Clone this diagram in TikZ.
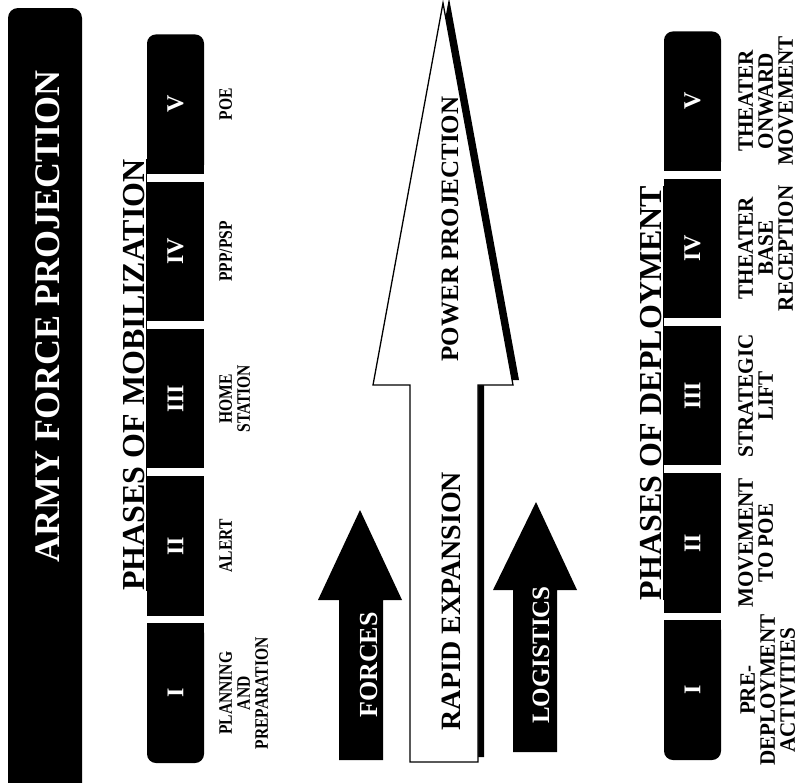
\documentclass[tikz,border=0pt]{standalone}
\usepackage{fontspec}
\setmainfont{Liberation Serif}
\newfontfamily\narrowfont{Liberation Serif}[FakeStretch=0.82]
\newfontfamily\wideningfont{Liberation Serif}[FakeStretch=0.96]
\usetikzlibrary{positioning,backgrounds}

\begin{document}
\begin{tikzpicture}[x=1pt,y=-1pt]
    \tikzset{
        phase/.style = {rectangle, fill=black, text=white, inner sep=0pt, minimum width=57pt, minimum height=139.4pt, font=\fontsize{24}{24}\selectfont\bfseries},
        endphase/.style = {phase, rounded corners=9pt},
        mlabel/.style = {rotate=90, anchor=north, align=center, inner sep=0pt, font=\narrowfont\bfseries\fontsize{19}{18}\selectfont},
        dlabel/.style = {rotate=90, anchor=north, align=center, inner sep=0pt, font=\wideningfont\bfseries\fontsize{22}{20}\selectfont},
        heading/.style = {rotate=90, anchor=south, inner sep=0pt, font=\fontsize{32}{32}\selectfont\bfseries},
        hollow/.style = {draw=black, fill=white, line width=1.3pt, line join=miter},
        solid/.style = {fill=black},
        arrowtext/.style = {rotate=90, inner sep=0pt, font=\fontsize{25}{25}\selectfont\bfseries},
    }
    \useasboundingbox (0,0) rectangle (802,782);

    % title bar
    \fill[rounded corners=10pt] (8,800) rectangle (82,8);
    \node[rotate=90, text=white, font=\fontsize{36}{36}\selectfont\bfseries](title) at (48,316){ARMY FORCE PROJECTION};

    % phases of mobilization
    \node[endphase](m1) at (175.5,693.3){\rotatebox{90}{I}};
    \node[phase](m2)[above = 7.5pt of m1]{\rotatebox{90}{II}};
    \node[phase](m3)[above = 7.5pt of m2]{\rotatebox{90}{III}};
    \node[phase](m4)[above = 7.5pt of m3]{\rotatebox{90}{IV}};
    \node[endphase](m5)[above = 7.5pt of m4]{\rotatebox{90}{V}};

    \node[mlabel](ml1)[right = 15pt of m1, anchor=north]{PLANNING\\AND\\PREPARATION};
    \node[mlabel](ml2)[right = 15pt of m2, anchor=north]{ALERT};
    \node[mlabel](ml3)[right = 15pt of m3, anchor=north]{HOME\\STATION};
    \node[mlabel](ml4)[right = 15pt of m4, anchor=north]{PPP/PSP};
    \node[mlabel](ml5)[right = 15pt of m5, anchor=north]{POE};

    \node[heading](mhead) at (147,375){\underline{PHASES OF MOBILIZATION}};

    % phases of deployment
    \node[endphase](d1) at (692.5,690.3){\rotatebox{90}{I}};
    \node[phase](d2)[above = 7.5pt of d1]{\rotatebox{90}{II}};
    \node[phase](d3)[above = 7.5pt of d2]{\rotatebox{90}{III}};
    \node[phase](d4)[above = 7.5pt of d3]{\rotatebox{90}{IV}};
    \node[endphase](d5)[above = 7.5pt of d4]{\rotatebox{90}{V}};

    \node[dlabel](dl1)[right = 19pt of d1, anchor=north]{PRE-\\DEPLOYMENT\\ACTIVITIES};
    \node[dlabel](dl2)[right = 17pt of d2, anchor=north]{MOVEMENT\\TO POE};
    \node[dlabel](dl3)[right = 17pt of d3, anchor=north]{STRATEGIC\\LIFT};
    \node[dlabel](dl4)[right = 17pt of d4, anchor=north]{THEATER\\BASE\\RECEPTION};
    \node[dlabel](dl5)[right = 17pt of d5, anchor=north]{THEATER\\ONWARD\\MOVEMENT};

    \node[heading](dhead) at (664,393){\underline{PHASES OF DEPLOYMENT}};

    % square off the inner ends of the end blocks
    \begin{scope}[on background layer]
        \fill (m1.west) rectangle (m1.north east);
        \fill (m5.south west) rectangle (m5.east);
        \fill (d1.west) rectangle (d1.north east);
        \fill (d5.south west) rectangle (d5.east);
    \end{scope}

    % power projection arrow with its shadow
    \fill[shift={(6,-5)}] (443,3) -- (513,385) -- (478,385) -- (478,762) -- (410,762) -- (410,385) -- (373,385) -- cycle;
    \path[hollow] (443,3) -- (513,385) -- (478,385) -- (478,762) -- (410,762) -- (410,385) -- (373,385) -- cycle;
    \node[arrowtext](power) at (450,229){POWER PROJECTION};
    \node[arrowtext, font=\fontsize{28}{28}\selectfont\bfseries](rapid) at (451,601){RAPID EXPANSION};

    % forces and logistics
    \path[solid] (360,510) -- (402,600) -- (383,600) -- (383,760) -- (339,760) -- (339,600) -- (318,600) -- cycle;
    \node[arrowtext, text=white, font=\fontsize{26}{26}\selectfont\bfseries](forces) at (369,665){FORCES};
    \path[solid] (536,502) -- (577,590) -- (557,590) -- (557,752) -- (513,752) -- (513,590) -- (493,590) -- cycle;
    \node[arrowtext, text=white](logistics) at (541,655){LOGISTICS};

\end{tikzpicture}
\end{document}
